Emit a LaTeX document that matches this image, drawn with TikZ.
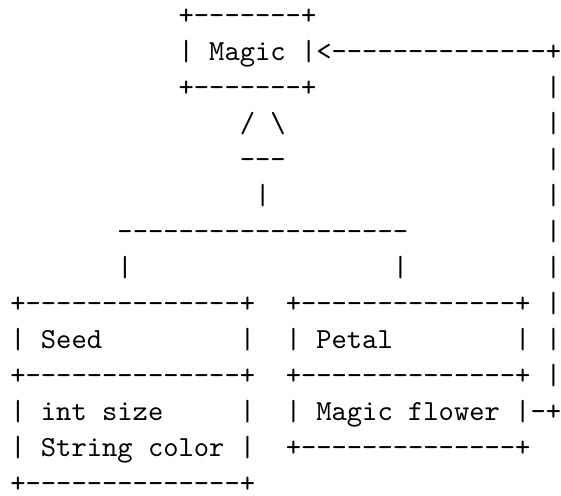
\documentclass[tikz,border=0pt]{standalone}
\usepackage{fontspec}
\setmonofont{lmmono10-regular.otf}
\begin{document}
\begin{tikzpicture}[x=15.3pt,y=-36.0pt,
  ascii/.style={anchor=base west,inner sep=0pt,outer sep=0pt,
    font=\ttfamily\fontsize{29.14}{36}\selectfont}]
\useasboundingbox (-10.35pt,-470.7pt) rectangle (550.65pt,24.3pt);
% Magic box
\node[ascii] (magicTop) at (11,0) {+-------+};
\node[ascii] (magicMid) at (11,1) {|~Magic~|<--------------+};
\node[ascii] (magicBot) at (11,2) {+-------+};
% inheritance triangle
\node[ascii] (triTop) at (15,3) {/~\textbackslash};
\node[ascii] (triBase) at (15,4) {---};
\node[ascii] (triStem) at (16,5) {|};
\node[ascii] (branch) at (7,6) {-------------------};
\node[ascii] (legL) at (7,7) {|};
\node[ascii] (legR) at (25,7) {|};
% right return line
\foreach \r in {2,...,10} \node[ascii] (ret\r) at (35,\r) {|};
% Seed box
\node[ascii] (seedTop) at (0,8) {+--------------+};
\node[ascii] (seedName) at (0,9) {|~Seed~~~~~~~~~|};
\node[ascii] (seedSep) at (0,10) {+--------------+};
\node[ascii] (seedA1) at (0,11) {|~int~size~~~~~|};
\node[ascii] (seedA2) at (0,12) {|~String~color~|};
\node[ascii] (seedBot) at (0,13) {+--------------+};
% Petal box
\node[ascii] (petalTop) at (18,8) {+--------------+};
\node[ascii] (petalName) at (18,9) {|~Petal~~~~~~~~|};
\node[ascii] (petalSep) at (18,10) {+--------------+};
\node[ascii] (petalA1) at (18,11) {|~Magic~flower~|-+};
\node[ascii] (petalBot) at (18,12) {+--------------+};
\end{tikzpicture}
\end{document}
